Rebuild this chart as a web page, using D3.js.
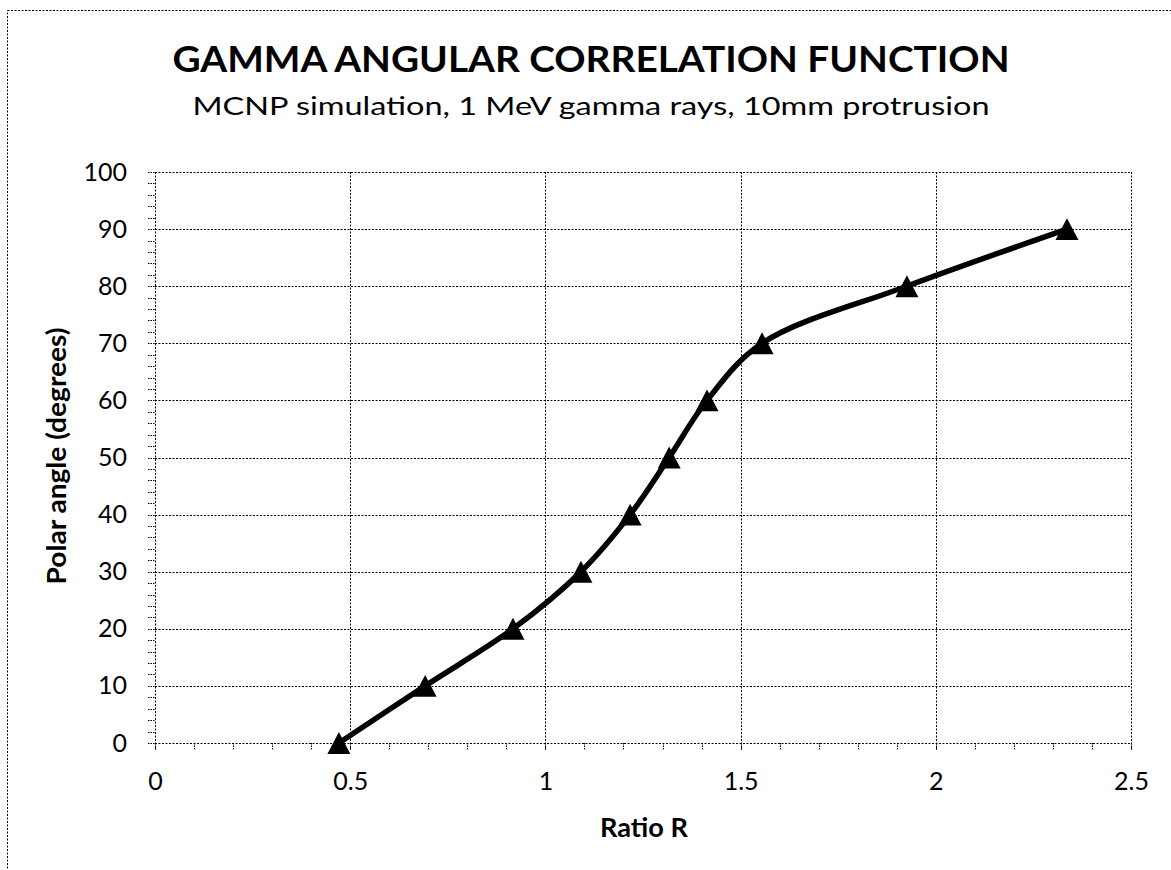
<!DOCTYPE html>
<html><head><meta charset="utf-8">
<script src="https://cdn.jsdelivr.net/npm/d3@7"></script>
<style>body{margin:0;background:#fff}svg{display:block}text{font-family:Lato,"Open Sans",sans-serif;fill:#000}</style>
</head><body>
<script>
const ratioR = [0.471, 0.692, 0.917, 1.091, 1.217, 1.317, 1.414, 1.555, 1.926, 2.336];
const polarAngle = [0, 10, 20, 30, 40, 50, 60, 70, 80, 90];
const xTicks = [0, 0.5, 1, 1.5, 2, 2.5];
const yTicks = [0, 10, 20, 30, 40, 50, 60, 70, 80, 90, 100];
const titleText = "GAMMA ANGULAR CORRELATION FUNCTION";
const subtitleText = "MCNP simulation, 1 MeV gamma rays, 10mm protrusion";
const xTitle = "Ratio R";
const yTitle = "Polar angle (degrees)";

const W = 1171, H = 870;
const svg = d3.select("body").append("svg").attr("width", W).attr("height", H);
const dash = "2,1.5";
svg.append("rect").attr("x", 7.5).attr("y", 10.5).attr("width", W + 20).attr("height", H + 20)
  .attr("fill", "none").attr("stroke", "#000").attr("stroke-width", 1).attr("stroke-dasharray", dash);

const L = 155, R = 1131, T = 172, B = 743;
const x = d3.scaleLinear().domain([0, 2.5]).range([L, R]);
const y = d3.scaleLinear().domain([0, 100]).range([B, T]);

// gridlines
const g = svg.append("g").attr("stroke", "#000").attr("stroke-width", 1).attr("stroke-dasharray", dash).attr("fill", "none");
yTicks.forEach(v => g.append("line").attr("x1", L).attr("x2", R).attr("y1", Math.round(y(v)) + 0.5).attr("y2", Math.round(y(v)) + 0.5));
xTicks.forEach(v => g.append("line").attr("y1", T).attr("y2", B + 7).attr("x1", Math.round(x(v)) + 0.5).attr("x2", Math.round(x(v)) + 0.5));

// minor ticks
const mt = svg.append("g").attr("stroke", "#000").attr("stroke-width", 1).attr("stroke-dasharray", "1.5,1");
d3.range(0, 2.5001, 0.1).forEach(v => mt.append("line").attr("x1", Math.round(x(v)) + 0.5).attr("x2", Math.round(x(v)) + 0.5).attr("y1", B).attr("y2", B + 7));
d3.range(0, 100.001, 2).forEach(v => mt.append("line").attr("y1", Math.round(y(v)) + 0.5).attr("y2", Math.round(y(v)) + 0.5).attr("x1", L - 7).attr("x2", L));

// axes labels via d3 axes
const xa = svg.append("g").attr("transform", `translate(0,${B})`)
  .call(d3.axisBottom(x).tickValues(xTicks).tickFormat(d3.format("")).tickSize(0).tickPadding(29));
const ya = svg.append("g").attr("transform", `translate(${L},0)`)
  .call(d3.axisLeft(y).tickValues(yTicks).tickSize(0).tickPadding(28));
[xa, ya].forEach(a => { a.select(".domain").remove(); a.attr("font-size", null).attr("font-family", null);
  a.selectAll("text").attr("font-size", 25).attr("fill", "#000"); });

// line
const line = d3.line().x((d, i) => x(ratioR[i])).y(d => y(d)).curve(d3.curveCatmullRom.alpha(0.5));
svg.append("path").attr("d", line(polarAngle)).attr("fill", "none").attr("stroke", "#000").attr("stroke-width", 5.5).attr("stroke-linejoin", "round");

// markers (triangle centred on its bounding box)
const triType = { draw(ctx, size) { const s = Math.sqrt(size); const h = s * 0.95;
  ctx.moveTo(0, -h / 2); ctx.lineTo(s / 2, h / 2); ctx.lineTo(-s / 2, h / 2); ctx.closePath(); } };
const tri = d3.symbol().type(triType).size(23 * 23);
svg.append("g").selectAll("path").data(polarAngle).join("path")
  .attr("transform", (d, i) => `translate(${x(ratioR[i])},${y(d)})`)
  .attr("d", tri).attr("fill", "#000");

// titles
svg.append("text").attr("x", 591).attr("y", 72).attr("text-anchor", "middle").attr("font-size", 37).attr("font-weight", "bold")
  .attr("textLength", 837).attr("lengthAdjust", "spacingAndGlyphs").text(titleText);
svg.append("text").attr("x", 591).attr("y", 115).attr("text-anchor", "middle").attr("font-size", 25)
  .attr("textLength", 797).attr("lengthAdjust", "spacingAndGlyphs").text(subtitleText);
svg.append("text").attr("x", 644).attr("y", 837).attr("text-anchor", "middle").attr("font-size", 26).attr("font-weight", "bold")
  .attr("textLength", 88).attr("lengthAdjust", "spacingAndGlyphs").text(xTitle);
svg.append("text").attr("transform", "translate(66,456) rotate(-90)").attr("text-anchor", "middle").attr("font-size", 26).attr("font-weight", "bold")
  .attr("textLength", 257).attr("lengthAdjust", "spacingAndGlyphs").text(yTitle);
</script>
</body></html>
